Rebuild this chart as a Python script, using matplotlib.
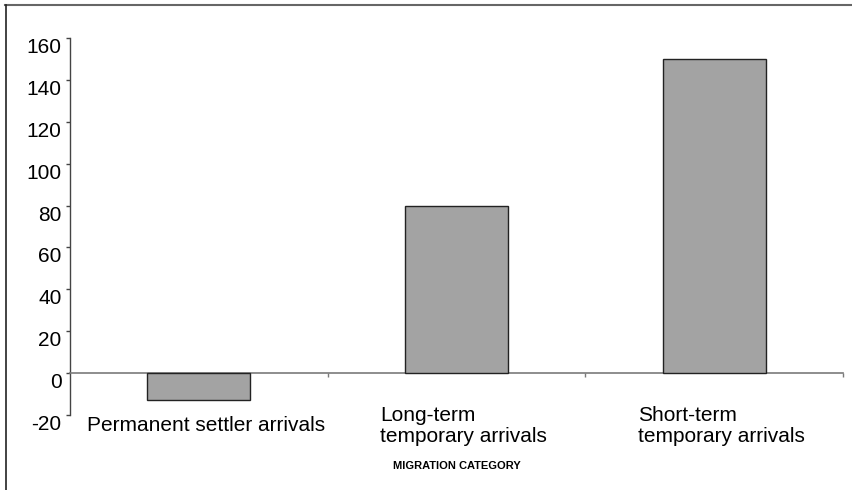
import matplotlib
matplotlib.use("Agg")
import matplotlib.pyplot as plt
import matplotlib.transforms as mtransforms
from matplotlib.lines import Line2D

plt.rcParams['font.family'] = ['Liberation Sans', 'DejaVu Sans']

categories = ["Permanent settler arrivals",
              "Long-term\ntemporary arrivals",
              "Short-term\ntemporary arrivals"]
values = [-13, 80, 150]
yticks = [-20, 0, 20, 40, 60, 80, 100, 120, 140, 160]
xlabel = "MIGRATION CATEGORY"

W, H = 852, 490
fig = plt.figure(figsize=(W / 100, H / 100), dpi=100)
ax = fig.add_axes([70 / W, (H - 415) / H, (843 - 70) / W, (415 - 38) / H])

x = list(range(len(categories)))
ax.bar(x, values, width=0.4, color='#a3a3a3', edgecolor='#222222', linewidth=1.0, zorder=3)

ax.set_xlim(-0.5, len(categories) - 0.5)
ax.set_ylim(yticks[0], yticks[-1])

# y axis
ax.set_yticks(yticks)
ax.set_yticklabels([str(v) for v in yticks], fontsize=15)
ax.tick_params(axis='y', direction='out', length=3, width=1, pad=3, color='#444444')
shift = mtransforms.ScaledTranslation(0, -7.5 / 100, fig.dpi_scale_trans)
for lab in ax.get_yticklabels():
    lab.set_transform(lab.get_transform() + shift)

for s in ['top', 'right']:
    ax.spines[s].set_visible(False)
ax.spines['left'].set_color('#444444')
ax.spines['left'].set_linewidth(1.0)

# category axis drawn along zero
ax.spines['bottom'].set_position(('data', 0))
ax.spines['bottom'].set_color('#7a7a7a')
ax.spines['bottom'].set_linewidth(1.2)
ax.set_xticks([i + 0.5 for i in x])
ax.set_xticklabels([])
ax.tick_params(axis='x', direction='out', length=3, width=1, color='#7a7a7a')

label_tr = mtransforms.blended_transform_factory(ax.transData, ax.transAxes) + \
    mtransforms.ScaledTranslation(7 / 100, 0, fig.dpi_scale_trans)
for i, c in zip(x, categories):
    ax.text(i, -0.029, c, transform=label_tr, ha='center', va='center',
            multialignment='left', fontsize=15, linespacing=1.17)

fig.text(456.5 / W, (H - 466) / H, xlabel, ha='center', va='center',
         fontsize=8, fontweight='bold')

# frame around the chart area
fig.add_artist(Line2D([5 / W, 1], [(H - 5) / H, (H - 5) / H], transform=fig.transFigure,
                      color='#666666', linewidth=1.5))
fig.add_artist(Line2D([6 / W, 6 / W], [0, (H - 5) / H], transform=fig.transFigure,
                      color='#222222', linewidth=1.2))

fig.savefig("out.png", dpi=100)
